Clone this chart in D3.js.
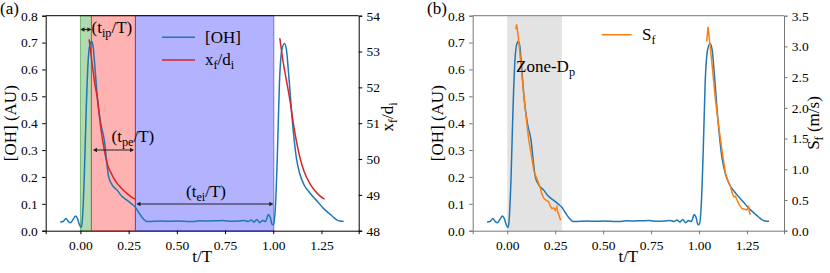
<!DOCTYPE html>
<html>
<head>
<meta charset="utf-8">
<script src="https://cdn.jsdelivr.net/npm/d3@7"></script>
<style>
  body { margin: 0; background: #fff; }
  svg, svg text { font-family: "Liberation Serif", "Times New Roman", Times, "DejaVu Serif", serif; }
</style>
</head>
<body>
<svg width="830" height="273"></svg>
<script>
// [OH] signal (t/T, AU) - same curve in both panels
const ohT = [-0.105, -0.09, -0.075, -0.062, -0.05, -0.038, -0.025, -0.015, -0.005, 0.004, 0.01, 0.02, 0.03, 0.04, 0.05, 0.058, 0.066, 0.075, 0.089, 0.105, 0.124, 0.141, 0.146, 0.165, 0.19, 0.215, 0.241, 0.265, 0.285, 0.305, 0.325, 0.345, 0.38, 0.42, 0.46, 0.5, 0.54, 0.58, 0.62, 0.66, 0.7, 0.74, 0.78, 0.82, 0.85, 0.87, 0.885, 0.9, 0.915, 0.93, 0.945, 0.96, 0.975, 0.985, 0.995, 1.002, 1.012, 1.022, 1.032, 1.045, 1.058, 1.068, 1.08, 1.1, 1.12, 1.137, 1.16, 1.185, 1.206, 1.23, 1.26, 1.29, 1.309, 1.33, 1.345, 1.365];
const ohV = [0.032, 0.034, 0.045, 0.034, 0.030, 0.042, 0.055, 0.045, 0.022, 0.012, 0.04, 0.2, 0.45, 0.63, 0.695, 0.705, 0.685, 0.61, 0.486, 0.4, 0.337, 0.226, 0.201, 0.17, 0.151, 0.128, 0.114, 0.1, 0.087, 0.065, 0.045, 0.034, 0.035, 0.036, 0.035, 0.036, 0.035, 0.034, 0.037, 0.036, 0.037, 0.038, 0.035, 0.036, 0.038, 0.034, 0.04, 0.032, 0.042, 0.03, 0.038, 0.034, 0.06, 0.048, 0.022, 0.025, 0.1, 0.3, 0.55, 0.675, 0.697, 0.675, 0.58, 0.4, 0.27, 0.213, 0.17, 0.145, 0.127, 0.108, 0.083, 0.064, 0.052, 0.04, 0.036, 0.035];

// x_f/d_i (right axis of panel a)
const xfT1 = [0.045, 0.06, 0.075, 0.089, 0.105, 0.124, 0.14, 0.158, 0.19, 0.21, 0.241, 0.265, 0.285];
const xfV1 = [53.34, 52.7, 52.1, 51.65, 50.9, 50.25, 49.85, 49.62, 49.32, 49.2, 49.04, 48.94, 48.88];
const xfT2 = [1.034, 1.05, 1.068, 1.086, 1.11, 1.137, 1.16, 1.189, 1.215, 1.24, 1.266];
const xfV2 = [53.37, 52.75, 52.2, 51.65, 50.8, 50.07, 49.65, 49.32, 49.12, 48.98, 48.88];

// S_f (m/s, right axis of panel b)
const sfT1 = [0.045, 0.049, 0.058, 0.069, 0.082, 0.095, 0.112, 0.125, 0.138, 0.15, 0.164, 0.172, 0.18, 0.19, 0.2, 0.216, 0.225, 0.233, 0.242, 0.25, 0.259, 0.263, 0.267, 0.273, 0.279];
const sfV1 = [3.28, 3.36, 3.15, 2.78, 2.35, 1.96, 1.48, 1.25, 0.99, 0.88, 0.77, 0.7, 0.6, 0.53, 0.5, 0.47, 0.4, 0.36, 0.37, 0.33, 0.39, 0.3, 0.28, 0.22, 0.17];
const sfT2 = [1.04, 1.047, 1.058, 1.069, 1.085, 1.103, 1.12, 1.138, 1.15, 1.164, 1.172, 1.181, 1.19, 1.198, 1.21, 1.224, 1.237, 1.25, 1.259, 1.263, 1.267];
const sfV2 = [3.08, 3.32, 3.0, 2.67, 2.15, 1.69, 1.3, 0.93, 0.82, 0.72, 0.62, 0.55, 0.56, 0.5, 0.42, 0.36, 0.35, 0.34, 0.39, 0.3, 0.26];

// zones
const zoneIp = [0, 0.057];
const zonePe = [0.057, 0.285];
const zoneEi = [0.285, 1.003];
const zoneDp = [0, 0.285];

const xTicks = [0, 0.25, 0.5, 0.75, 1.0, 1.25];
const ohTicks = [0, 0.1, 0.2, 0.3, 0.4, 0.5, 0.6, 0.7, 0.8];
const xfTicks = [48, 49, 50, 51, 52, 53, 54];
const sfTicks = [0, 0.5, 1, 1.5, 2, 2.5, 3, 3.5];

const svg = d3.select("svg");
const plotTop = 15.7, plotBottom = 230.7;
const serif = "Liberation Serif";

function panel(left, right, rightDomain, rightTicks, rightFmt, spineColor) {
  const x = d3.scaleLinear().domain([-0.18, 1.443]).range([left, right]);
  const y = d3.scaleLinear().domain([0, 0.8]).range([plotBottom, plotTop]);
  const y2 = d3.scaleLinear().domain(rightDomain).range([plotBottom, plotTop]);
  const g = svg.append("g");
  const zones = g.append("g");
  const marks = g.append("g");

  const axes = g.append("g");
  const ax = axes.append("g").attr("transform", `translate(0,${plotBottom})`)
    .call(d3.axisBottom(x).tickValues(xTicks).tickFormat(d3.format(".2f")).tickSizeOuter(0).tickSize(3.5));
  const ay = axes.append("g").attr("transform", `translate(${left},0)`)
    .call(d3.axisLeft(y).tickValues(ohTicks).tickFormat(d3.format(".1f")).tickSizeOuter(0).tickSize(3.5));
  const ay2 = axes.append("g").attr("transform", `translate(${right},0)`)
    .call(d3.axisRight(y2).tickValues(rightTicks).tickFormat(rightFmt).tickSizeOuter(0).tickSize(3.5));
  axes.selectAll("g").attr("font-family", null).attr("font-size", null);
  axes.append("line").attr("x1", left).attr("x2", right).attr("y1", plotTop).attr("y2", plotTop)
    .attr("stroke", spineColor).attr("stroke-width", 1);
  axes.selectAll(".domain").attr("stroke", spineColor).attr("stroke-width", 1);
  axes.selectAll(".tick line").attr("stroke", spineColor);
  axes.selectAll(".tick text").style("font-family", serif).style("font-size", "13.5px").attr("fill", "#000");
  ax.selectAll(".tick text").attr("dy", "0.95em");
  ay.selectAll(".tick text").attr("dx", "-0.1em");
  ay2.selectAll(".tick text").attr("dx", "0.1em");

  g.append("text").attr("x", (left + right) / 2).attr("y", 262).attr("text-anchor", "middle")
    .style("font-size", "17px").text("t/T");
  g.append("text").attr("transform", `translate(${left - 30},${(plotTop + plotBottom) / 2}) rotate(-90)`)
    .attr("text-anchor", "middle").style("font-size", "17px").text("[OH] (AU)");

  const line = d3.line().curve(d3.curveMonotoneX);
  marks.append("path")
    .attr("d", line(ohT.map((t, i) => [x(t), y(ohV[i])])))
    .attr("fill", "none").attr("stroke", "#1f77b4").attr("stroke-width", 1.5);

  return { g, x, y, y2, zones, marks, line };
}

function span(p, range, color, op) {
  p.zones.append("rect")
    .attr("x", p.x(range[0])).attr("width", p.x(range[1]) - p.x(range[0]))
    .attr("y", plotTop).attr("height", plotBottom - plotTop)
    .attr("fill", color).attr("fill-opacity", op)
    .attr("stroke", color).attr("stroke-opacity", op + 0.15).attr("stroke-width", 1);
}

function sub(sel, parts, size) {
  sel.style("font-size", size + "px");
  parts.forEach(([s, isSub]) => {
    const ts = sel.append("tspan").text(s);
    if (isSub) ts.style("font-size", (size * 0.72) + "px").attr("dy", size * 0.25);
    else if (sel.node().childNodes.length > 1) ts.attr("dy", -size * 0.25);
  });
  return sel;
}

function dblArrow(p, x1, x2, yy) {
  const s = 4, h = 2.2;
  p.g.append("line").attr("x1", x1 + 1).attr("x2", x2 - 1).attr("y1", yy).attr("y2", yy)
    .attr("stroke", "#222").attr("stroke-width", 1.2);
  p.g.append("path").attr("d", `M${x1},${yy}L${x1 + s},${yy - h}L${x1 + s},${yy + h}Z M${x2},${yy}L${x2 - s},${yy - h}L${x2 - s},${yy + h}Z`)
    .attr("fill", "#222");
}

// ----- panel (a)
const pa = panel(45.7, 358.7, [48, 54], xfTicks, d3.format("d"), "#000");
span(pa, zoneIp, "#008000", 0.3);
span(pa, zonePe, "#ff0000", 0.3);
span(pa, zoneEi, "#0000ff", 0.3);
[[xfT1, xfV1], [xfT2, xfV2]].forEach(([ts, vs]) => {
  pa.marks.append("path")
    .attr("d", pa.line(ts.map((t, i) => [pa.x(t), pa.y2(vs[i])])))
    .attr("fill", "none").attr("stroke", "#d62728").attr("stroke-width", 1.5);
});
sub(pa.g.append("text").attr("transform", `translate(${358.7 + 34.5},${117}) rotate(-90)`)
  .attr("text-anchor", "middle"), [["x", 0], ["f", 1], ["/d", 0], ["i", 1]], 17);

// annotations
dblArrow(pa, pa.x(zoneIp[0]), pa.x(zoneIp[1]), 29.5);
sub(pa.g.append("text").attr("x", 91.5).attr("y", 33), [["(t", 0], ["ip", 1], ["/T)", 0]], 17);
dblArrow(pa, 93, 134, 150);
sub(pa.g.append("text").attr("x", 111.5).attr("y", 142), [["(t", 0], ["pe", 1], ["/T)", 0]], 17);
dblArrow(pa, 136.5, 273.3, 204);
sub(pa.g.append("text").attr("x", 186).attr("y", 197), [["(t", 0], ["ei", 1], ["/T)", 0]], 17);

// legend (a)
pa.g.append("line").attr("x1", 162).attr("x2", 195).attr("y1", 37.3).attr("y2", 37.3)
  .attr("stroke", "#1f77b4").attr("stroke-width", 1.5);
pa.g.append("text").attr("x", 205).attr("y", 43).style("font-size", "17px").text("[OH]");
pa.g.append("line").attr("x1", 162).attr("x2", 195).attr("y1", 60).attr("y2", 60)
  .attr("stroke", "#d62728").attr("stroke-width", 1.5);
sub(pa.g.append("text").attr("x", 205).attr("y", 65), [["x", 0], ["f", 1], ["/d", 0], ["i", 1]], 17);

svg.append("text").attr("x", 0).attr("y", 14).style("font-size", "17px").text("(a)");

// ----- panel (b)
const pb = panel(472.7, 784, [0, 3.5], sfTicks, d3.format(".1f"), "#777");
span(pb, zoneDp, "#808080", 0.22);
pb.zones.selectAll("rect").attr("stroke", "none");
[[sfT1, sfV1], [sfT2, sfV2]].forEach(([ts, vs]) => {
  pb.marks.append("path")
    .attr("d", d3.line()(ts.map((t, i) => [pb.x(t), pb.y2(vs[i])])))
    .attr("fill", "none").attr("stroke", "#ff7f0e").attr("stroke-width", 1.5);
});
sub(pb.g.append("text").attr("transform", `translate(${784 + 34.5},${123}) rotate(-90)`)
  .attr("text-anchor", "middle"), [["S", 0], ["f", 1], [" (m/s)", 0]], 17);
sub(pb.g.append("text").attr("x", 516).attr("y", 72), [["Zone-D", 0], ["p", 1]], 17);

pb.g.append("line").attr("x1", 601.7).attr("x2", 631.7).attr("y1", 34.7).attr("y2", 34.7)
  .attr("stroke", "#ff7f0e").attr("stroke-width", 1.5);
sub(pb.g.append("text").attr("x", 642).attr("y", 40), [["S", 0], ["f", 1]], 17);

svg.append("text").attr("x", 427).attr("y", 14).style("font-size", "17px").text("(b)");
</script>
</body>
</html>
